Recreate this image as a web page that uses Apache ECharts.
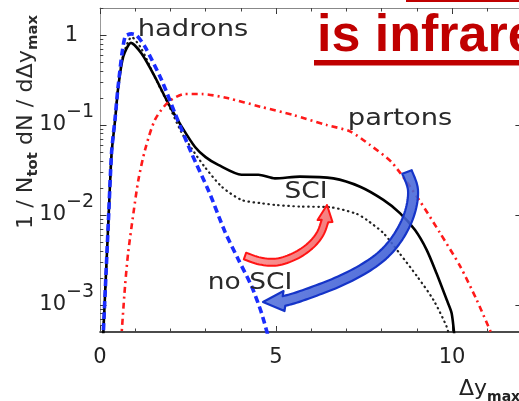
<!DOCTYPE html>
<html>
<head>
<meta charset="utf-8">
<script src="https://cdn.jsdelivr.net/npm/echarts@6/dist/echarts.min.js"></script>
<style>
  html, body { margin: 0; padding: 0; background: #ffffff; }
  #chart { width: 519px; height: 401px; }
</style>
</head>
<body>
<div id="chart"></div>
<script>
// Distributions of the largest rapidity gap Δy_max, normalised per event.

// hadrons with soft colour interactions (solid black)
const hadronsSciX = [0.07, 0.24, 0.33, 0.43, 0.52, 0.66, 0.88, 1.18, 1.56, 1.94, 2.32, 2.70, 3.0, 3.36, 4.02, 4.5, 4.97, 5.68, 6.63, 7.39, 8.05, 8.52, 8.95, 9.28, 9.56, 9.85, 9.99, 10.08];
const hadronsSciY = [3e-4, 0.0088, 0.049, 0.114, 0.267, 0.575, 0.82, 0.625, 0.344, 0.174, 0.096, 0.057, 0.044, 0.036, 0.028, 0.028, 0.0255, 0.0267, 0.0255, 0.0206, 0.0147, 0.0105, 0.0068, 0.0041, 0.00225, 0.00114, 0.00081, 4e-4];

// hadrons, dotted black variant
const hadronsDotX = [0.07, 0.24, 0.33, 0.43, 0.52, 0.66, 0.9, 1.18, 1.56, 1.94, 2.3, 2.6, 2.98, 3.46, 4.02, 4.59, 5.0, 5.68, 6.53, 7.29, 7.58, 8.05, 8.52, 9.0, 9.47, 9.85, 9.95];
const hadronsDotY = [3e-4, 0.0088, 0.049, 0.114, 0.27, 0.6, 0.95, 0.7, 0.34, 0.17, 0.085, 0.055, 0.034, 0.0206, 0.0147, 0.0135, 0.0129, 0.0124, 0.0122, 0.0103, 0.0088, 0.0063, 0.0037, 0.0021, 0.00114, 0.00057, 4e-4];

// hadrons without soft colour interactions (blue dashed)
const hadronsNoSciX = [0.07, 0.24, 0.33, 0.43, 0.52, 0.71, 0.9, 1.04, 1.28, 1.75, 2.13, 2.6, 3.1, 3.55, 3.93, 4.31, 4.59, 4.85];
const hadronsNoSciY = [3e-4, 0.0088, 0.05, 0.12, 0.28, 0.96, 1.03, 0.99, 0.74, 0.316, 0.135, 0.0485, 0.018, 0.0065, 0.0032, 0.0016, 0.00081, 3.5e-4];

// partons (red dash-dot)
const partonsX = [0.6, 0.71, 0.8, 0.95, 1.09, 1.28, 1.56, 1.94, 2.41, 2.89, 3.65, 4.55, 5.49, 6.44, 7.1, 7.67, 8.3, 9.05, 9.66, 10.23, 10.7, 11.15];
const partonsY = [4e-4, 0.0016, 0.0038, 0.0105, 0.0245, 0.053, 0.114, 0.18, 0.221, 0.221, 0.198, 0.16, 0.129, 0.1, 0.085, 0.06, 0.038, 0.015, 0.0063, 0.0027, 0.00114, 4.5e-4];

// axis ticks
const xTickLabels = [0, 5, 10];
const yMajorTicks = [0.001, 0.01, 0.1, 1];
const yRange = [0.0005, 2];
const xRange = [0, 12];

const yMinorTicks = [];
for (let e = -4; e <= 0; e++) {
  for (let m = 2; m <= 9; m++) {
    const v = m * Math.pow(10, e);
    if (v >= yRange[0] && v <= yRange[1]) yMinorTicks.push(v);
  }
}

const pairs = (xs, ys) => xs.map((x, i) => [x, ys[i]]);

const FONT = 'DejaVu Sans';
const INK = '#222';

// thick curved arrow outline built around a centre line
function arrowPoints(centre, tip, bodyW, headW) {
  const pts = [];
  const seg = 8;
  for (let i = 0; i < centre.length - 1; i++) {
    const p0 = centre[Math.max(i - 1, 0)], p1 = centre[i], p2 = centre[i + 1], p3 = centre[Math.min(i + 2, centre.length - 1)];
    for (let k = 0; k < seg; k++) {
      const t = k / seg, t2 = t * t, t3 = t2 * t;
      const f = (a, b, c, d) => 0.5 * ((2 * b) + (-a + c) * t + (2 * a - 5 * b + 4 * c - d) * t2 + (-a + 3 * b - 3 * c + d) * t3);
      pts.push([f(p0[0], p1[0], p2[0], p3[0]), f(p0[1], p1[1], p2[1], p3[1])]);
    }
  }
  pts.push(centre[centre.length - 1]);
  const left = [], right = [];
  for (let i = 0; i < pts.length; i++) {
    const a = pts[Math.max(i - 1, 0)], b = pts[Math.min(i + 1, pts.length - 1)];
    let dx = b[0] - a[0], dy = b[1] - a[1];
    const len = Math.hypot(dx, dy) || 1;
    dx /= len; dy /= len;
    const nx = -dy, ny = dx;
    left.push([pts[i][0] + nx * bodyW / 2, pts[i][1] + ny * bodyW / 2]);
    right.push([pts[i][0] - nx * bodyW / 2, pts[i][1] - ny * bodyW / 2]);
  }
  const base = pts[pts.length - 1];
  let hx = tip[0] - base[0], hy = tip[1] - base[1];
  const hl = Math.hypot(hx, hy) || 1;
  hx /= hl; hy /= hl;
  const wl = [base[0] - hy * headW / 2, base[1] + hx * headW / 2];
  const wr = [base[0] + hy * headW / 2, base[1] - hx * headW / 2];
  return left.concat([wl, tip, wr]).concat(right.reverse());
}

const redArrow = arrowPoints(
  [[245, 256], [260, 261], [277, 262], [295, 256], [310, 246], [320, 234], [325, 221]],
  [327, 205], 7, 15);
const blueArrow = arrowPoints(
  [[407, 172], [413, 190], [410, 212], [400, 234], [385, 253], [365, 268], [340, 281], [315, 291], [295, 298], [284, 301]],
  [263, 302], 10, 20);

const chart = echarts.init(document.getElementById('chart'), null, { renderer: 'canvas' });

const xBase = { type: 'value', min: xRange[0], max: xRange[1], splitLine: { show: false } };
const yBase = { type: 'log', logBase: 10, min: yRange[0], max: yRange[1], splitLine: { show: false } };

function yLabel(v) {
  const e = Math.round(Math.log10(v));
  if (Math.abs(Math.log10(v) - e) > 1e-6) return '';
  if (e === 0) return '{one|1}';
  return '{b|10}{s|\u2212' + (-e) + '}';
}

const option = {
  animation: false,
  backgroundColor: '#ffffff',
  grid: { left: 100, top: 8, width: 422.4, height: 324, containLabel: false, outerBoundsMode: 'none' },
  xAxis: [
    Object.assign({}, xBase, {
      position: 'bottom', interval: 5,
      axisLine: { show: true, onZero: false, lineStyle: { color: '#111', width: 1.6 } },
      axisTick: { show: true, inside: true, length: 6, lineStyle: { color: '#333', width: 1 } },
      axisLabel: {
        customValues: xTickLabels,
        margin: 15, fontSize: 21, fontFamily: FONT, color: INK,
        formatter: v => (xTickLabels.indexOf(v) >= 0 ? String(v) : '')
      }
    }),
    Object.assign({}, xBase, {
      position: 'bottom', interval: 1,
      axisLine: { show: false, onZero: false },
      axisTick: { show: true, inside: true, length: 3.5, lineStyle: { color: '#444', width: 1 } },
      axisLabel: { show: false }
    }),
    Object.assign({}, xBase, {
      position: 'top', interval: 5,
      axisLine: { show: true, onZero: false, lineStyle: { color: '#888', width: 1 } },
      axisTick: { show: true, inside: true, length: 6, lineStyle: { color: '#333', width: 1 } },
      axisLabel: { show: false }
    }),
    Object.assign({}, xBase, {
      position: 'top', interval: 1,
      axisLine: { show: false, onZero: false },
      axisTick: { show: true, inside: true, length: 3.5, lineStyle: { color: '#444', width: 1 } },
      axisLabel: { show: false }
    })
  ],
  yAxis: [
    Object.assign({}, yBase, {
      position: 'left',
      axisLine: { show: true, onZero: false, lineStyle: { color: '#999', width: 1 } },
      axisTick: { show: true, inside: true, length: 6.5, customValues: yMajorTicks, lineStyle: { color: '#333', width: 1 } },
      axisLabel: {
        customValues: yMajorTicks, margin: 6,
        formatter: yLabel,
        rich: {
          b: { fontSize: 21, fontFamily: FONT, color: INK, lineHeight: 44 },
          s: { fontSize: 19, fontFamily: FONT, color: INK, lineHeight: 18, verticalAlign: 'top' },
          one: { fontSize: 21, fontFamily: FONT, color: INK, lineHeight: 44, padding: [0, 16, 0, 0] }
        }
      }
    }),
    Object.assign({}, yBase, {
      position: 'left',
      axisLine: { show: false, onZero: false },
      axisTick: { show: true, inside: true, length: 3.3, customValues: yMinorTicks, lineStyle: { color: '#444', width: 1 } },
      axisLabel: { show: false }
    }),
    Object.assign({}, yBase, {
      position: 'right',
      axisLine: { show: true, onZero: false, lineStyle: { color: '#888', width: 1 } },
      axisTick: { show: true, inside: true, length: 7, customValues: yMajorTicks, lineStyle: { color: '#333', width: 1 } },
      axisLabel: { show: false }
    })
  ],
  series: [
    {
      name: 'hadrons (dotted)', type: 'line', xAxisIndex: 0, yAxisIndex: 0,
      data: pairs(hadronsDotX, hadronsDotY), showSymbol: false, symbol: 'none', smooth: 0.25, clip: true, z: 2,
      lineStyle: { color: '#222', width: 2.2, type: [0.5, 4.5], cap: 'round' }
    },
    {
      name: 'hadrons SCI', type: 'line', xAxisIndex: 0, yAxisIndex: 0,
      data: pairs(hadronsSciX, hadronsSciY), showSymbol: false, symbol: 'none', smooth: 0.25, clip: true, z: 3,
      lineStyle: { color: '#000', width: 2.6 }
    },
    {
      name: 'partons', type: 'line', xAxisIndex: 0, yAxisIndex: 0,
      data: pairs(partonsX, partonsY), showSymbol: false, symbol: 'none', smooth: 0.25, clip: true, z: 4,
      lineStyle: { color: '#ff1a1a', width: 2.6, type: [6, 4, 2, 4] }
    },
    {
      name: 'hadrons no SCI', type: 'line', xAxisIndex: 0, yAxisIndex: 0,
      data: pairs(hadronsNoSciX, hadronsNoSciY), showSymbol: false, symbol: 'none', smooth: 0.25, clip: true, z: 5,
      lineStyle: { color: '#1a2cff', width: 3.6, type: [7, 4] }
    }
  ],
  graphic: [
    // red heading running off the top right
    { type: 'rect', z: 20, shape: { x: 406, y: 0, width: 120, height: 2 }, style: { fill: '#c00000' } },
    { type: 'text', z: 20, x: 317, y: 36.5,
      style: { text: 'is infrare', font: 'bold 52px "Liberation Sans", Arial, sans-serif', fill: '#c00000', align: 'left', verticalAlign: 'middle' } },
    { type: 'rect', z: 20, shape: { x: 314, y: 60, width: 212, height: 5.5 }, style: { fill: '#c00000' } },

    // y axis title
    { type: 'text', z: 20, x: 27, y: 122, rotation: Math.PI / 2, scaleX: 1.06,
      style: {
        text: '1 / N{s|tot} dN / d\u0394y{s|max}', align: 'center', verticalAlign: 'middle',
        font: '21px "DejaVu Sans"', fill: '#2a2a2a',
        rich: {
          s: { fontSize: 14, fontWeight: 'bold', fontFamily: FONT, fill: '#2a2a2a', lineHeight: 14, padding: [12, 0, 0, 0], verticalAlign: 'top' }
        },
        lineHeight: 26
      } },

    // x axis title
    { type: 'text', z: 20, x: 459, y: 391,
      style: {
        text: '{m|\u0394y}{s|max}', align: 'left', verticalAlign: 'middle',
        rich: {
          m: { fontSize: 22, fontFamily: FONT, fill: INK, lineHeight: 26, verticalAlign: 'top' },
          s: { fontSize: 14, fontWeight: 'bold', fontFamily: FONT, fill: INK, lineHeight: 14, padding: [12, 0, 0, 0], verticalAlign: 'top' }
        }
      } },

    // curve annotations
    { type: 'text', z: 20, x: 193, y: 30, scaleX: 1.19,
      style: { text: 'hadrons', font: '23px "DejaVu Sans"', fill: '#2a2a2a', align: 'center', verticalAlign: 'middle' } },
    { type: 'text', z: 20, x: 400, y: 119, scaleX: 1.19,
      style: { text: 'partons', font: '23px "DejaVu Sans"', fill: '#2a2a2a', align: 'center', verticalAlign: 'middle' } },
    { type: 'text', z: 20, x: 306, y: 192, scaleX: 1.15,
      style: { text: 'SCI', font: '23px "DejaVu Sans"', fill: '#2a2a2a', align: 'center', verticalAlign: 'middle' } },
    { type: 'text', z: 20, x: 250, y: 283, scaleX: 1.15,
      style: { text: 'no SCI', font: '23px "DejaVu Sans"', fill: '#2a2a2a', align: 'center', verticalAlign: 'middle' } },

    // arrows
    { type: 'polygon', z: 15, shape: { points: redArrow },
      style: {
        fill: new echarts.graphic.LinearGradient(0, 0, 1, 1, [
          { offset: 0, color: 'rgba(255,170,170,0.9)' }, { offset: 1, color: 'rgba(240,90,90,0.9)' }
        ]),
        stroke: '#ff1414', lineWidth: 2, lineJoin: 'round'
      } },
    { type: 'polygon', z: 15, shape: { points: blueArrow },
      style: {
        fill: new echarts.graphic.LinearGradient(0, 0, 1, 1, [
          { offset: 0, color: 'rgba(110,135,225,0.85)' }, { offset: 1, color: 'rgba(45,80,210,0.9)' }
        ]),
        stroke: '#1534c8', lineWidth: 2.2, lineJoin: 'round'
      } }
  ]
};

chart.setOption(option);
</script>
</body>
</html>
